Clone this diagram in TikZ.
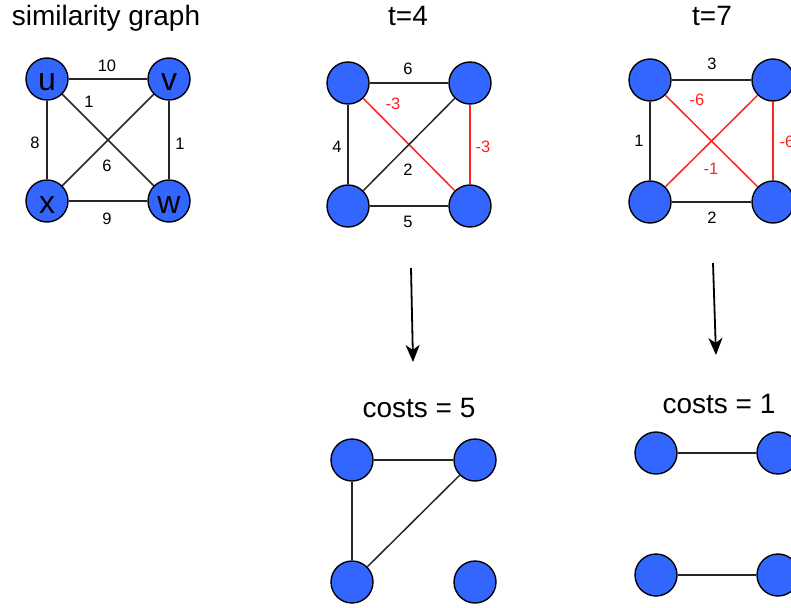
\documentclass[tikz,border=0pt]{standalone}
\usepackage{fontspec}
\setmainfont{Liberation Sans}
\usepackage{xcolor}
\usepackage{tikz}
\usetikzlibrary{arrows.meta}
\definecolor{vertexblue}{HTML}{3366FF}
\definecolor{cutred}{HTML}{FF2222}

\begin{document}
\begin{tikzpicture}[x=1pt, y=-1pt,
  vertex/.style={circle, draw=black, fill=vertexblue, line width=1.4pt, minimum size=42pt, inner sep=0pt},
  namedvertex/.style={vertex, font=\fontsize{32}{32}\selectfont, text height=24pt, text depth=0pt},
  title/.style={anchor=base, inner sep=0pt, font=\fontsize{28}{32}\selectfont},
  weight/.style={inner sep=0pt, font=\fontsize{16.5}{18}\selectfont},
  negweight/.style={weight, text=cutred},
  edge/.style={line width=1.5pt, draw=black!85},
  negedge/.style={line width=1.5pt, draw=cutred},
  arrow/.style={-{Stealth[length=17pt, width=14pt, inset=5pt]}, line width=1.8pt}
]
  \useasboundingbox (0,0) rectangle (791,607);

  \node[title] (simtitle) at (106,26) {similarity graph};
  \node[title] (t4title) at (408,26) {t=4};
  \node[title] (t7title) at (712,26) {t=7};
  \node[title] (cost5title) at (419,417) {costs = 5};
  \node[title] (cost1title) at (719,413) {costs = 1};

  \node[namedvertex] (u) at (47,79) {u};
  \node[namedvertex] (v) at (169,79) {v};
  \node[namedvertex] (x) at (47,201) {x};
  \node[namedvertex] (w) at (169,201) {w};
  \draw[edge] (u) -- (v);
  \draw[edge] (u) -- (x);
  \draw[edge] (u) -- (w);
  \draw[edge] (v) -- (x);
  \draw[edge] (v) -- (w);
  \draw[edge] (x) -- (w);
  \node[weight] (uv) at (107,66) {10};
  \node[weight] (uw) at (89,102) {1};
  \node[weight] (ux) at (35,143) {8};
  \node[weight] (vw) at (180,144) {1};
  \node[weight] (vx) at (107,166) {6};
  \node[weight] (xw) at (107,219) {9};

  \node[vertex] (a1) at (348,83) {};
  \node[vertex] (b1) at (470,83) {};
  \node[vertex] (c1) at (348,206) {};
  \node[vertex] (d1) at (470,206) {};
  \draw[edge] (a1) -- (b1);
  \draw[edge] (a1) -- (c1);
  \draw[negedge] (a1) -- (d1);
  \draw[edge] (b1) -- (c1);
  \draw[negedge] (b1) -- (d1);
  \draw[edge] (c1) -- (d1);
  \node[weight] (ab1) at (408,69) {6};
  \node[negweight] (ad1) at (393,104) {-3};
  \node[weight] (ac1) at (337,147) {4};
  \node[negweight] (bd1) at (483,147) {-3};
  \node[weight] (bc1) at (408,170) {2};
  \node[weight] (cd1) at (408,222) {5};

  \node[vertex] (a2) at (650,80) {};
  \node[vertex] (b2) at (773,80) {};
  \node[vertex] (c2) at (650,202) {};
  \node[vertex] (d2) at (773,202) {};
  \draw[edge] (a2) -- (b2);
  \draw[edge] (a2) -- (c2);
  \draw[negedge] (a2) -- (d2);
  \draw[negedge] (b2) -- (c2);
  \draw[negedge] (b2) -- (d2);
  \draw[edge] (c2) -- (d2);
  \node[weight] (ab2) at (712,64) {3};
  \node[negweight] (ad2) at (697,100) {-6};
  \node[weight] (ac2) at (639,141) {1};
  \node[negweight] (bd2) at (787,142) {-6};
  \node[negweight] (bc2) at (711,169) {-1};
  \node[weight] (cd2) at (712,218) {2};

  \coordinate (arrowtop1) at (411,268);
  \coordinate (arrowtip1) at (413,362);
  \coordinate (arrowtop2) at (713,263);
  \coordinate (arrowtip2) at (716,355);
  \draw[arrow] (arrowtop1) -- (arrowtip1);
  \draw[arrow] (arrowtop2) -- (arrowtip2);

  \node[vertex] (a3) at (352,460) {};
  \node[vertex] (b3) at (475,460) {};
  \node[vertex] (c3) at (352,582) {};
  \node[vertex] (d3) at (475,582) {};
  \draw[edge] (a3) -- (b3);
  \draw[edge] (a3) -- (c3);
  \draw[edge] (b3) -- (c3);

  \node[vertex] (a4) at (656,453) {};
  \node[vertex] (b4) at (778,453) {};
  \node[vertex] (c4) at (656,575) {};
  \node[vertex] (d4) at (778,575) {};
  \draw[edge] (a4) -- (b4);
  \draw[edge] (c4) -- (d4);
\end{tikzpicture}
\end{document}
